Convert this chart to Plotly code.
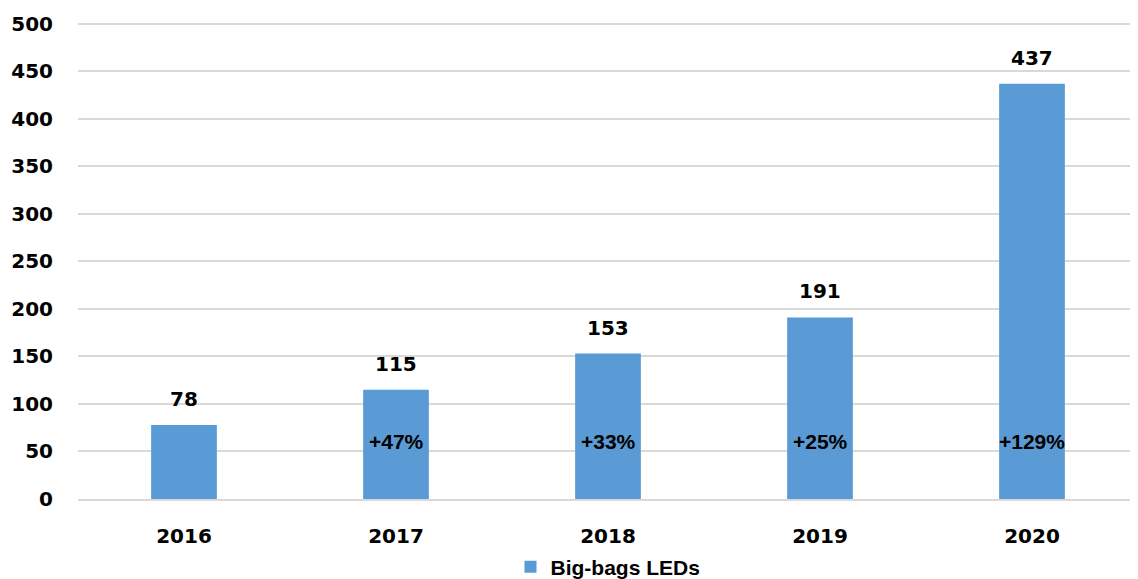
import plotly.graph_objects as go

years = ["2016", "2017", "2018", "2019", "2020"]
leds = [78, 115, 153, 191, 437]
growth = ["", "+47%", "+33%", "+25%", "+129%"]

BAR = "#5B9BD5"
fig = go.Figure()
fig.add_trace(go.Bar(x=years, y=leds, name="Big-bags LEDs", marker=dict(color=BAR, line=dict(width=0)),
                     showlegend=True))

for i, v in enumerate(leds):
    fig.add_annotation(x=i, y=v, text=str(v), showarrow=False, yanchor="bottom", yshift=12,
                       font=dict(family="DejaVu Sans", size=20, color="#000000", weight="bold"))
for i, g in enumerate(growth):
    if g:
        fig.add_annotation(x=i, y=60, text=g, showarrow=False, yanchor="middle",
                           font=dict(family="Liberation Sans", size=21, color="#000000", weight="bold"))

fig.update_layout(
    width=1130, height=571,
    margin=dict(l=70, r=0, t=13, b=80, autoexpand=False),
    paper_bgcolor="white", plot_bgcolor="white",
    bargap=0.69,
    showlegend=True,
    legend=dict(orientation="h", x=0.5, xanchor="center", yref="container", y=0.021, yanchor="middle",
                font=dict(family="Liberation Sans", size=21, color="#000000", weight="bold"),
                itemwidth=30),
    xaxis=dict(type="category", range=[-0.5, 4.5], showgrid=False, showline=True, linecolor="#d9d9d9", linewidth=2,
               tickfont=dict(family="DejaVu Sans", size=20, color="#000000", weight="bold"),
               ticklabelstandoff=18),
    yaxis=dict(range=[0, 503], dtick=50, showgrid=True, gridcolor="#d9d9d9", gridwidth=1.5,
               zeroline=False, showline=False,
               tickfont=dict(family="DejaVu Sans", size=20, color="#000000", weight="bold"),
               ticklabelstandoff=24),
)

fig.write_html("out.html")
